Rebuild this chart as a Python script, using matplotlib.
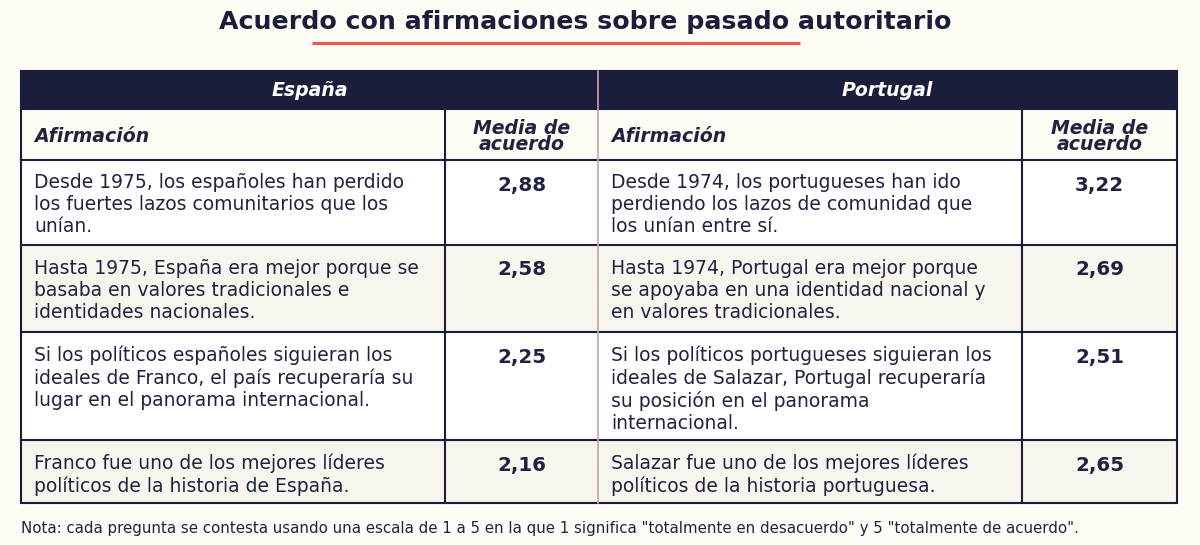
import matplotlib.pyplot as plt
from matplotlib.patches import Rectangle

plt.rcParams["font.family"] = ["DejaVu Sans"]

# Table contents
title = "Acuerdo con afirmaciones sobre pasado autoritario"
countries = ["España", "Portugal"]
col_headers = ["Afirmación", "Media de\nacuerdo"]
spain_statements = [
    "Desde 1975, los españoles han perdido\nlos fuertes lazos comunitarios que los\nunían.",
    "Hasta 1975, España era mejor porque se\nbasaba en valores tradicionales e\nidentidades nacionales.",
    "Si los políticos españoles siguieran los\nideales de Franco, el país recuperaría su\nlugar en el panorama internacional.",
    "Franco fue uno de los mejores líderes\npolíticos de la historia de España.",
]
spain_values = [2.88, 2.58, 2.25, 2.16]
portugal_statements = [
    "Desde 1974, los portugueses han ido\nperdiendo los lazos de comunidad que\nlos unían entre sí.",
    "Hasta 1974, Portugal era mejor porque\nse apoyaba en una identidad nacional y\nen valores tradicionales.",
    "Si los políticos portugueses siguieran los\nideales de Salazar, Portugal recuperaría\nsu posición en el panorama\ninternacional.",
    "Salazar fue uno de los mejores líderes\npolíticos de la historia portuguesa.",
]
portugal_values = [3.22, 2.69, 2.51, 2.65]
note = ('Nota: cada pregunta se contesta usando una escala de 1 a 5 en la que 1 significa '
        '"totalmente en desacuerdo" y 5 "totalmente de acuerdo".')

# Layout (pixel coordinates)
navy = "#1b1e3a"
text_col = "#1f2340"
page_bg = "#fefcf5"
stripe = "#f8f5ee"
left, right = 21, 1177
mid = 598
col_splits = [445, 1022]
top, head_bot, sub_bot = 71, 109, 160
row_edges = [160, 245, 332, 440, 503]

fig = plt.figure(figsize=(12, 5.45), dpi=100)
fig.patch.set_facecolor(page_bg)
ax = fig.add_axes([0, 0, 1, 1])
ax.set_xlim(0, 1200)
ax.set_ylim(545, 0)
ax.axis("off")

# Title and underline
ax.text(585, 22, title, ha="center", va="center", fontsize=18.2,
        fontweight="bold", color=navy)
ax.plot([312, 800], [43, 43], color="#e8574f", lw=2.2, solid_capstyle="butt")

# Header band
ax.add_patch(Rectangle((left, top), right - left, head_bot - top, facecolor=navy,
                       edgecolor="none"))
ax.add_patch(Rectangle((left, head_bot), right - left, sub_bot - head_bot,
                       facecolor=page_bg, edgecolor="none"))

blocks = [(left, col_splits[0], mid, countries[0], spain_statements, spain_values),
          (mid, col_splits[1], right, countries[1], portugal_statements, portugal_values)]

for x0, xs, x1, country, statements, values in blocks:
    ax.text((x0 + x1) / 2, (top + head_bot) / 2, country, ha="center", va="center",
            fontsize=13.6, fontweight="bold", style="italic", color="white")
    ax.text(x0 + 13, (head_bot + sub_bot) / 2 + 2.5, col_headers[0], ha="left",
            va="center", fontsize=13.6, fontweight="bold", style="italic",
            color=text_col)
    ax.text((xs + x1) / 2, (head_bot + sub_bot) / 2 + 2.5, col_headers[1], ha="center",
            va="center", fontsize=13.6, fontweight="bold", style="italic",
            color=text_col, linespacing=0.8)
    for i, (s, v) in enumerate(zip(statements, values)):
        y0, y1 = row_edges[i], row_edges[i + 1]
        bg = stripe if i % 2 else "white"
        ax.add_patch(Rectangle((x0, y0), x1 - x0, y1 - y0, facecolor=bg,
                               edgecolor="none"))
        ax.text(x0 + 13, y0 + 13.5, s, ha="left", va="top", fontsize=13.5,
                color=text_col, linespacing=1.2)
        ax.text((xs + x1) / 2, y0 + 25, f"{v:.2f}".replace(".", ","),
                ha="center", va="center", fontsize=14.3, fontweight="bold",
                color=text_col)
    # grid lines
    for y in [head_bot, sub_bot] + row_edges[1:-1]:
        ax.plot([x0, x1], [y, y], color=navy, lw=1.5)
    ax.plot([xs, xs], [head_bot, row_edges[-1]], color=navy, lw=1.5)

# Outer border and country divider
ax.add_patch(Rectangle((left, top), right - left, row_edges[-1] - top,
                       facecolor="none", edgecolor=navy, lw=1.5))
ax.plot([mid, mid], [top, row_edges[-1]], color="#c9a3ab", lw=1.2)

ax.text(left, 528, note, ha="left", va="center", fontsize=10.85, color=text_col)

fig.savefig("out.png", dpi=100, facecolor=page_bg)
